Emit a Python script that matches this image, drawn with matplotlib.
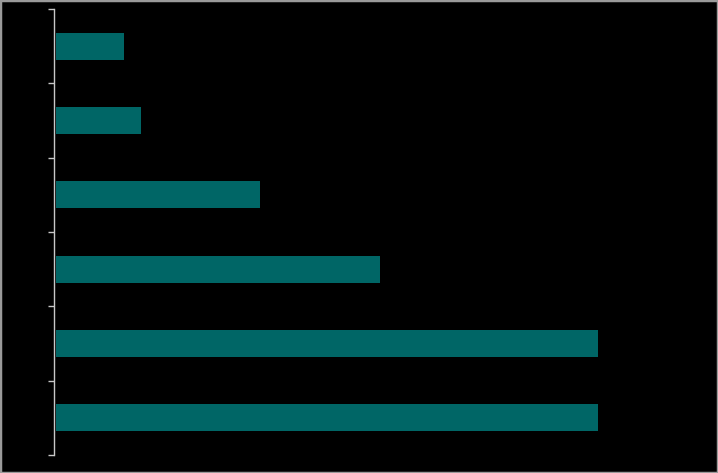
import matplotlib
matplotlib.use("Agg")
import matplotlib.pyplot as plt
from matplotlib.patches import Rectangle

# Data (top to bottom in the picture); no labels are visible in the reference
categories = ["", "", "", "", "", ""]
values = [10.6, 13.2, 31.7, 50.3, 84.2, 84.2]

W, H = 718, 473
fig = plt.figure(figsize=(W / 100, H / 100), dpi=100, facecolor="black")
ax = fig.add_axes([56 / W, 18 / H, 644 / W, 446 / H], facecolor="black")

n = len(values)
pos = list(range(n))
ax.barh(pos, values, height=0.36, color="#006666", edgecolor="none")
ax.set_ylim(n - 0.5, -0.5)
ax.set_xlim(0, 100)

for s in ["top", "right", "bottom"]:
    ax.spines[s].set_visible(False)
ax.spines["left"].set_color("#c8c8c8")
ax.spines["left"].set_linewidth(1)
ax.spines["left"].set_position(("outward", 1.4))

ax.set_yticks([i - 0.5 for i in range(n + 1)])
ax.set_yticklabels([""] * (n + 1))
ax.set_yticks(pos, minor=True)
ax.set_yticklabels(categories, minor=True, color="black")
ax.tick_params(axis="y", which="major", length=4.5, width=1, color="#c8c8c8")
ax.tick_params(axis="y", which="minor", length=0)
ax.set_xticks([])

fig.patches.append(Rectangle((0, 0), 1, 1, transform=fig.transFigure,
                             fill=False, edgecolor="#9a9a9a", linewidth=2.5))

fig.savefig("out.png", dpi=100, facecolor="black")
